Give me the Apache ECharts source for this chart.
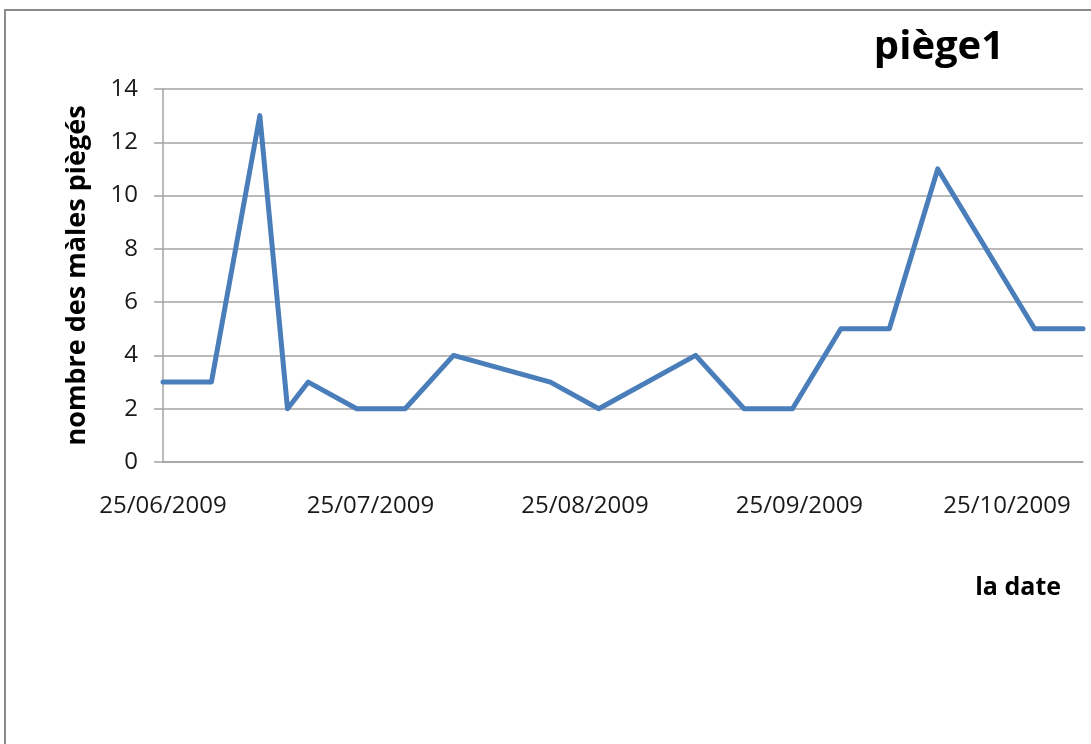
<!DOCTYPE html>
<html>
<head>
<meta charset="utf-8">
<title>piège1</title>
<script src="https://cdn.jsdelivr.net/npm/echarts@6/dist/echarts.min.js"></script>
<style>
  html, body { margin: 0; padding: 0; background: #ffffff; }
  #chart { width: 1091px; height: 744px; }
</style>
</head>
<body>
<div id="chart"></div>
<script>
// Weekly trap counts (trap 1), 2009
var dates = [
  '2009-06-25', '2009-07-02', '2009-07-09', '2009-07-13', '2009-07-16',
  '2009-07-23', '2009-07-30', '2009-08-06', '2009-08-20', '2009-08-27',
  '2009-09-10', '2009-09-17', '2009-09-24', '2009-10-01', '2009-10-08',
  '2009-10-15', '2009-10-29', '2009-11-05'
];
var males = [3, 3, 13, 2, 3, 2, 2, 4, 3, 2, 4, 2, 2, 5, 5, 11, 5, 5];

// Date axis labels, one per month on the 25th
var tickDates = ['2009-06-25', '2009-07-25', '2009-08-25', '2009-09-25', '2009-10-25'];
var yTicks = [0, 2, 4, 6, 8, 10, 12, 14];

function toTime(s) {
  var p = s.split('-');
  return new Date(+p[0], +p[1] - 1, +p[2]).getTime();
}
function pad(n) { return n < 10 ? '0' + n : '' + n; }
function fmtDate(t) {
  var d = new Date(t);
  return pad(d.getDate()) + '/' + pad(d.getMonth() + 1) + '/' + d.getFullYear();
}

var seriesData = dates.map(function (d, i) { return [toTime(d), males[i]]; });
var gridGray = '#a3a3a3';
var labelFont = '"Open Sans", "DejaVu Sans", sans-serif';

var chart = echarts.init(document.getElementById('chart'), null, { renderer: 'canvas' });
chart.setOption({
  animation: false,
  backgroundColor: '#ffffff',
  graphic: [
    {
      type: 'rect',
      silent: true,
      z: -1,
      shape: { x: 5, y: 10, width: 1200, height: 900 },
      style: { fill: 'none', stroke: '#8a8a8a', lineWidth: 2 }
    },
    {
      type: 'text',
      x: 939, y: 48,
      style: {
        text: 'piège1',
        font: 'bold 40px ' + labelFont,
        fill: '#000000',
        align: 'center',
        verticalAlign: 'middle'
      }
    },
    {
      type: 'text',
      x: 1061, y: 588,
      style: {
        text: 'la date',
        font: 'bold 25px ' + labelFont,
        fill: '#000000',
        align: 'right',
        verticalAlign: 'middle'
      }
    }
  ],
  grid: { left: 163, right: 8, top: 89, bottom: 282, containLabel: false },
  xAxis: {
    // day timestamps on a linear scale, labelled on the 25th of each month
    type: 'value',
    min: toTime(dates[0]),
    max: toTime(dates[dates.length - 1]),
    axisLine: { show: true, onZero: false, lineStyle: { color: gridGray, width: 1.5 } },
    axisTick: { show: false },
    splitLine: { show: false },
    axisLabel: {
      customValues: tickDates.map(toTime),
      formatter: function (v) { return fmtDate(v); },
      fontFamily: labelFont,
      fontSize: 24,
      color: '#1a1a1a',
      margin: 32,
      hideOverlap: false
    }
  },
  yAxis: {
    type: 'value',
    min: yTicks[0],
    max: yTicks[yTicks.length - 1],
    interval: 2,
    name: 'nombre des màles piègés',
    nameLocation: 'middle',
    nameRotate: 90,
    nameGap: 72,
    nameTextStyle: {
      fontFamily: labelFont,
      fontWeight: 'bold',
      fontSize: 27,
      color: '#000000'
    },
    axisLine: { show: true, lineStyle: { color: gridGray, width: 1.5 } },
    axisTick: { show: true, inside: false, length: 9, lineStyle: { color: gridGray, width: 1.5 } },
    splitLine: { show: true, lineStyle: { color: gridGray, width: 1.5 } },
    axisLabel: {
      fontFamily: labelFont,
      fontSize: 24,
      color: '#1a1a1a',
      margin: 25
    }
  },
  series: [{
    type: 'line',
    data: seriesData,
    showSymbol: false,
    symbol: 'none',
    lineStyle: { color: '#4a7ebb', width: 5, cap: 'round', join: 'round' },
    itemStyle: { color: '#4a7ebb' }
  }]
});
</script>
</body>
</html>
